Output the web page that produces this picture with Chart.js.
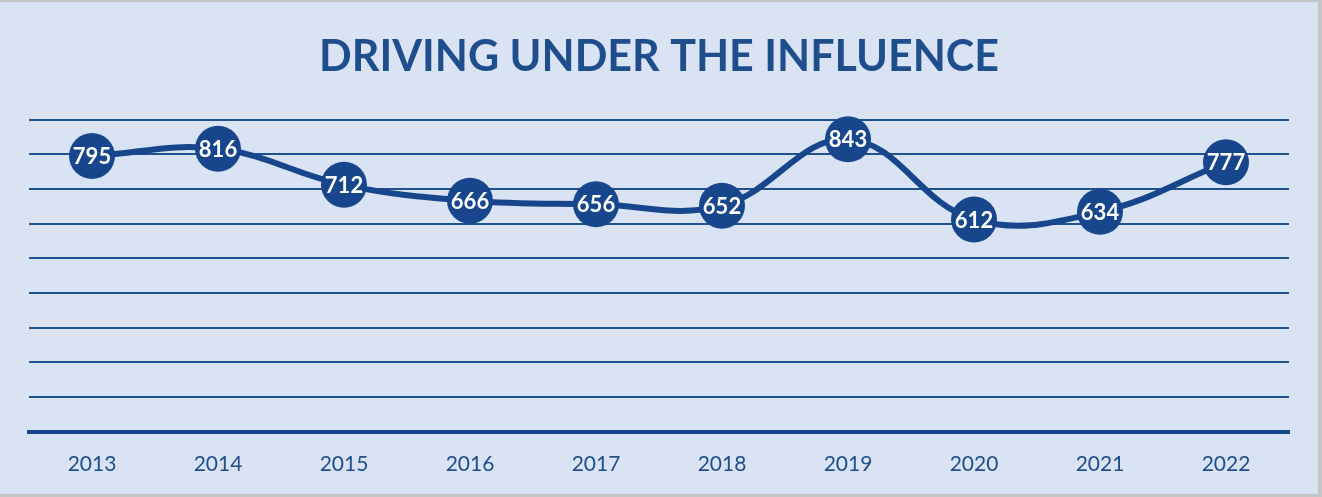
<!DOCTYPE html>
<html>
<head>
<meta charset="utf-8">
<script src="https://cdn.jsdelivr.net/npm/chart.js@4/dist/chart.umd.min.js"></script>
<style>
  html, body { margin: 0; padding: 0; background: #D9E3F3; }
  #wrap { width: 1322px; height: 497px; position: relative; }
  canvas { display: block; }
</style>
</head>
<body>
<div id="wrap"><canvas id="c" width="1322" height="497"></canvas></div>
<script>
// Yearly DUI counts
const years = ['2013', '2014', '2015', '2016', '2017', '2018', '2019', '2020', '2021', '2022'];
const duiCounts = [795, 816, 712, 666, 656, 652, 843, 612, 634, 777];
const chartTitle = 'DRIVING UNDER THE INFLUENCE';
const yMin = 0, yMax = 900, yStep = 100;

const NAVY = '#17468C';
const GRID = '#22518F';
const TEXT = '#1F4E8C';
const FONT = 'Lato, "Open Sans", sans-serif';

// Page background and the thin grey frame
const frame = {
  id: 'frame',
  beforeDraw(chart) {
    const { ctx, width, height } = chart;
    ctx.save();
    ctx.fillStyle = '#D9E3F3';
    ctx.fillRect(0, 0, width, height);
    ctx.fillStyle = '#C6C6C6';
    ctx.fillRect(0, 0, width, 2);
    ctx.fillRect(0, height - 3, width, 3);
    ctx.fillRect(width - 4, 0, 4, height);
    ctx.restore();
  }
};

// White value labels centred on each marker
const valueLabels = {
  id: 'valueLabels',
  afterDatasetsDraw(chart) {
    const { ctx } = chart;
    const meta = chart.getDatasetMeta(0);
    ctx.save();
    ctx.fillStyle = '#FFFFFF';
    ctx.font = `bold 22px ${FONT}`;
    ctx.textAlign = 'center';
    ctx.textBaseline = 'middle';
    meta.data.forEach((pt, i) => {
      ctx.fillText(String(chart.data.datasets[0].data[i]), pt.x, pt.y + 1);
    });
    ctx.restore();
  }
};

new Chart(document.getElementById('c'), {
  type: 'line',
  data: {
    labels: years,
    datasets: [{
      data: duiCounts,
      borderColor: NAVY,
      borderWidth: 6,
      tension: 0.4,
      pointRadius: 23,
      pointHoverRadius: 23,
      pointBackgroundColor: NAVY,
      pointBorderColor: NAVY,
      pointBorderWidth: 0,
      clip: false
    }]
  },
  options: {
    responsive: false,
    animation: false,
    events: [],
    layout: { padding: { left: 29, right: 33, top: 0, bottom: 0 } },
    plugins: {
      legend: { display: false },
      tooltip: { enabled: false },
      title: {
        display: true,
        text: chartTitle,
        color: TEXT,
        font: { family: FONT, size: 43, weight: 'bold', lineHeight: 1.2 },
        padding: { top: 31, bottom: 37 }
      }
    },
    scales: {
      x: {
        offset: true,
        grid: { display: false, drawTicks: false },
        border: { display: true, color: NAVY, width: 4 },
        ticks: {
          color: TEXT,
          font: { family: FONT, size: 21 },
          padding: 20,
          maxRotation: 0
        }
      },
      y: {
        min: yMin,
        max: yMax,
        ticks: { display: false, stepSize: yStep },
        grid: { color: GRID, lineWidth: 2, drawTicks: false },
        border: { display: false }
      }
    }
  },
  plugins: [frame, valueLabels]
});
</script>
</body>
</html>
